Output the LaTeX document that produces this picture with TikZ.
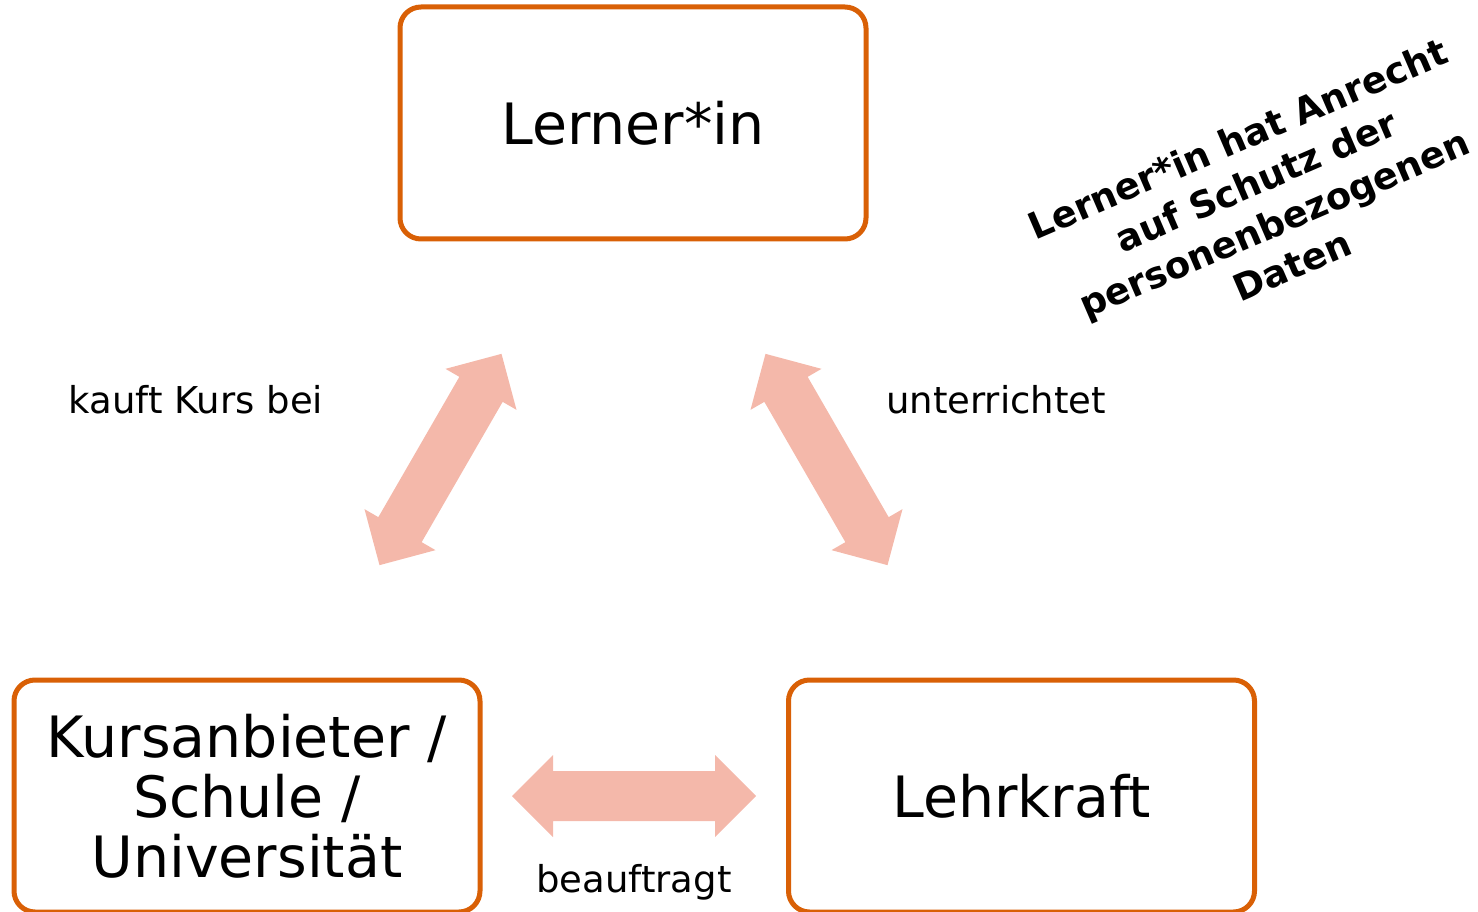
\documentclass[tikz,border=0pt]{standalone}
\usepackage{fontspec}
\setmainfont{DejaVu Sans}
\definecolor{boxorange}{RGB}{217,96,6}
\definecolor{arrowfill}{RGB}{244,184,170}
\tikzset{
  entity/.style={draw=boxorange, line width=5pt, rounded corners=21pt, fill=white,
    minimum width=466pt, minimum height=232pt, align=center, inner sep=0pt,
    font=\fontsize{57}{60}\selectfont},
  relabel/.style={font=\fontsize{37}{44}\selectfont, inner sep=0pt},
  dblarrow/.pic={\fill[arrowfill] (-122,0) -- (-81,41) -- (-81,25) -- (81,25) -- (81,41) -- (122,0)
     -- (81,-41) -- (81,-25) -- (-81,-25) -- (-81,-41) -- cycle;}
}
\begin{document}
\begin{tikzpicture}[x=1pt,y=-1pt]
\useasboundingbox (0,0) rectangle (1478,912);
\node[entity] (lerner) at (633,123) {Lerner*in};
\node[entity] (anbieter) at (247,796) {Kursanbieter /\\Schule /\\Universität};
\node[entity] (lehr) at (1021.5,796) {Lehrkraft};
\pic[rotate=60] (a1) at (440.5,459.5) {dblarrow};
\pic[rotate=-60] (a2) at (826.5,459.5) {dblarrow};
\pic (a3) at (634,796) {dblarrow};
\node[relabel] (kauft) at (196,400) {kauft Kurs bei};
\node[relabel] (unter) at (996,400) {unterrichtet};
\node[relabel] (beauf) at (634,882) {beauftragt};
\node[font=\bfseries\fontsize{36.8}{46}\selectfont, align=center, rotate=23.3, inner sep=0pt] (schutz) at (1265,202)
  {Lerner*in hat Anrecht\\auf Schutz der\\personenbezogenen\\Daten};
\end{tikzpicture}
\end{document}
